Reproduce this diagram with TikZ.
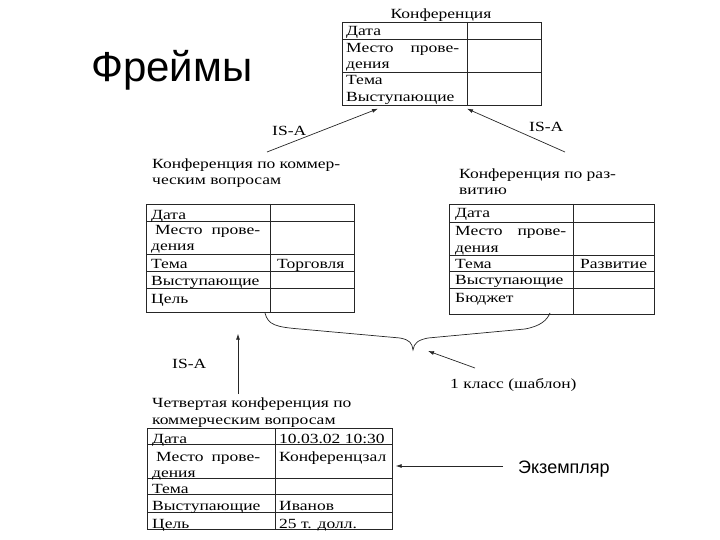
\documentclass[tikz,border=0pt]{standalone}
\usepackage{fontspec}
\setmainfont{Liberation Serif}
\newfontfamily\tabfont[FakeStretch=1.25]{Liberation Serif}
\newfontfamily\headfont{Liberation Sans}
\usetikzlibrary{calc,arrows.meta}

\begin{document}
\begin{tikzpicture}[x=1pt,y=-1pt,
    txt/.style={font=\tabfont\fontsize{14}{16}\selectfont, inner sep=0pt, anchor=base west},
    hd/.style={font=\tabfont\fontsize{14}{16.5}\selectfont, inner sep=0pt, anchor=base west, align=left},
    frame/.style={draw=black!85, line width=0.7pt, inner sep=0pt, anchor=north west},
    grid/.style={black!85, line width=0.7pt},
    link/.style={-{Latex[length=6pt,width=4pt]}, black!85, line width=0.7pt}]
    \useasboundingbox (0,0) rectangle (720,540);

    % заголовок
    \node[font=\headfont\fontsize{42}{46}\selectfont, inner sep=0pt, anchor=base west] (title) at (91,82) {Фреймы};

    % фрейм "Конференция"
    \node[txt, anchor=base] (confT) at (441,19) {Конференция};
    \node[frame, minimum width=199, minimum height=83] (conf) at (342,22) {};
    \draw[grid] (467,22) -- (467,105);
    \foreach \y in {39,72} \draw[grid] (342,\y) -- (541,\y);
    \foreach \y/\t in {31/Дата, 48/{\hbox to 113pt{Место\hfill прове-}}, 64/дения, 80/Тема, 97/Выступающие}
        \node[txt] at (346,\y+5) {\t};

    % фрейм по коммерческим вопросам
    \node[hd] (comT) at (152,185) {Конференция по коммер-\\ческим вопросам};
    \node[frame, minimum width=208, minimum height=108] (com) at (146,204) {};
    \draw[grid] (270,204) -- (270,312);
    \foreach \y in {221,254,271,288} \draw[grid] (146,\y) -- (354,\y);
    \foreach \y/\t in {214/Дата, 230/{\hbox to 109pt{\hskip 4pt Место\hfill прове-}}, 245/дения, 263/Тема, 280/Выступающие, 298/Цель}
        \node[txt] at (151,\y+5) {\t};
    \node[txt] at (277,263+5) {Торговля};

    % фрейм по развитию
    \node[hd] (devT) at (459,195) {Конференция по раз-\\витию};
    \node[frame, minimum width=205, minimum height=110] (dev) at (449,204) {};
    \draw[grid] (573,204) -- (573,314);
    \foreach \y in {222,255,271,288} \draw[grid] (449,\y) -- (654,\y);
    \foreach \y/\t in {213/Дата, 231/{\hbox to 111pt{Место\hfill прове-}}, 247/дения, 263/Тема, 279/Выступающие, 297/Бюджет}
        \node[txt] at (455,\y+5) {\t};
    \node[txt] at (580,263+5) {Развитие};

    % экземпляр
    \node[hd] (insT) at (152,424) {Четвертая конференция по\\коммерческим вопросам};
    \node[frame, minimum width=245, minimum height=101] (ins) at (147,428) {};
    \draw[grid] (275,428) -- (275,529);
    \foreach \y in {444,478,494,512} \draw[grid] (147,\y) -- (392,\y);
    \foreach \y/\t/\v in {438/Дата/{10.03.02 10:30}, 456/{\hbox to 108pt{\hskip 4pt Место\hfill прове-}}/Конференцзал, 472/дения/{}, 488/Тема/{}, 505/Выступающие/Иванов, 523/Цель/{25 т. долл.}} {
        \node[txt] at (152,\y+5) {\t};
        \node[txt] at (279,\y+5) {\v};
    }

    % IS-A связи
    \node[txt] (isaL) at (272,136) {IS-A};
    \node[txt] (isaR) at (529,132) {IS-A};
    \node[txt] (isaB) at (172,368) {IS-A};
    \coordinate (aL) at (267,152);
    \coordinate (aR) at (565,152);
    \coordinate (aB) at (238,394);
    \draw[link] (aL) -- ($(conf.south west)+(36,3)$);
    \draw[link] (aR) -- ($(conf.south west)+(125,3)$);
    \draw[link] (aB) -- ($(com.south west)+(92,21)$);

    % фигурная скобка
    \draw[grid] (265,313) .. controls (268,325) and (276,327) .. (300,329) -- (400,338)
        .. controls (410,340) and (412,343) .. (413,350)
        .. controls (414,343) and (418,340) .. (428,338) -- (525,329)
        .. controls (541,326) and (547,320) .. (550,313);
    \node[txt] (cls) at (450,388) {1 класс (шаблон)};
    \coordinate (aC) at (475,368);
    \draw[link] (aC) -- (428,351);

    % экземпляр
    \node[font=\headfont\fontsize{18}{20}\selectfont, inner sep=0pt, anchor=base west] (exm) at (518,473) {Экземпляр};
    \coordinate (aE) at (503,466);
    \draw[link] (aE) -- ($(ins.north east)+(3,38)$);
\end{tikzpicture}
\end{document}
